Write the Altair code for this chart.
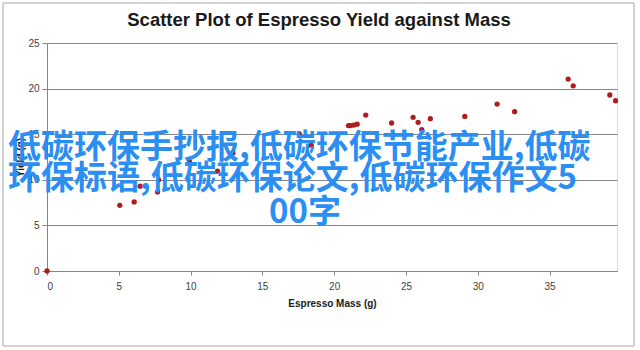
import altair as alt
import pandas as pd

mass = [0, 5.07, 6.07, 6.49, 7.7, 7.77, 9.93, 11.88, 12.95, 17.57, 18.4, 21.0,
        21.13, 21.36, 21.6, 22.2, 24.0, 25.5, 25.85, 26.1, 26.7, 29.1, 31.35,
        32.57, 36.3, 36.65, 39.2, 39.6]
yield_g = [0, 7.2, 7.57, 9.3, 8.67, 10.0, 11.95, 10.95, 12.95, 15.03, 13.8, 15.95,
           15.95, 16.0, 16.1, 17.1, 16.23, 16.85, 16.3, 15.5, 16.7, 16.95, 18.3,
           17.47, 21.04, 20.3, 19.3, 18.67]
x_ticks = [0, 5, 10, 15, 20, 25, 30, 35]
y_ticks = [0, 5, 10, 15, 20, 25]
overlay_lines = ["低碳环保手抄报,低碳环保节能产业,低碳",
                 "环保标语,低碳环保论文,低碳环保作文5",
                 "00字"]

df = pd.DataFrame({"mass": mass, "yield": yield_g})

W, H = 570, 228

border = alt.Chart(pd.DataFrame({"a": [0]})).mark_rect(
    fill=None, stroke="#a8a8a8", strokeWidth=1
).encode(x=alt.value(-44), x2=alt.value(587), y=alt.value(-40), y2=alt.value(303))

points = alt.Chart(df).mark_circle(size=28, color="#b01c1c", opacity=1).encode(
    x=alt.X("mass:Q", scale=alt.Scale(domain=[0, 39.7], nice=False),
            axis=alt.Axis(values=x_ticks, title="Espresso Mass (g)", grid=False,
                          tickSize=4, tickColor="#868686", domainColor="#868686",
                          labelColor="#404040", labelFontSize=10, labelPadding=6,
                          titleFontSize=10, titleFontWeight="bold", titleColor="#202020",
                          titlePadding=7, labelFont="Liberation Sans", titleFont="Liberation Sans")),
    y=alt.Y("yield:Q", scale=alt.Scale(domain=[0, 25], nice=False),
            axis=alt.Axis(values=y_ticks, title="Yield (g)", grid=True, gridColor="#868686",
                          tickSize=5, tickColor="#868686", domainColor="#868686",
                          labelColor="#404040", labelFontSize=10, labelPadding=3,
                          titleFontSize=10, titleFontWeight="bold", titleColor="#202020",
                          titlePadding=2, labelFont="Liberation Sans", titleFont="Liberation Sans")),
)

def text_line(i, xv, yv, align):
    return alt.Chart(pd.DataFrame({"t": [overlay_lines[i]]})).mark_text(
        font="Noto Sans CJK SC", fontSize=33, fontWeight="bold", color="#2a8ef2",
        align=align, baseline="middle"
    ).encode(text="t:N", x=alt.value(xv), y=alt.value(yv))

overlay = text_line(0, -39, 105, "left") + text_line(1, -39, 136, "left") + text_line(2, 258, 170, "center")

chart = alt.layer(border, points, overlay).properties(
    width=W, height=H,
    title=alt.TitleParams("Scatter Plot of Espresso Yield against Mass", fontSize=18.5,
                          fontWeight="bold", font="Liberation Sans", color="#1a1a1a",
                          anchor="middle", offset=-27, dx=-13),
    autosize=alt.AutoSizeParams(type="none"),
    padding={"left": 47, "top": 43, "right": 23, "bottom": 79},
).configure_view(fill="#c0c0c0", stroke="#a0a0a0").configure(background="white")

chart.save("out.html", embed_options={"renderer": "svg", "actions": False})
